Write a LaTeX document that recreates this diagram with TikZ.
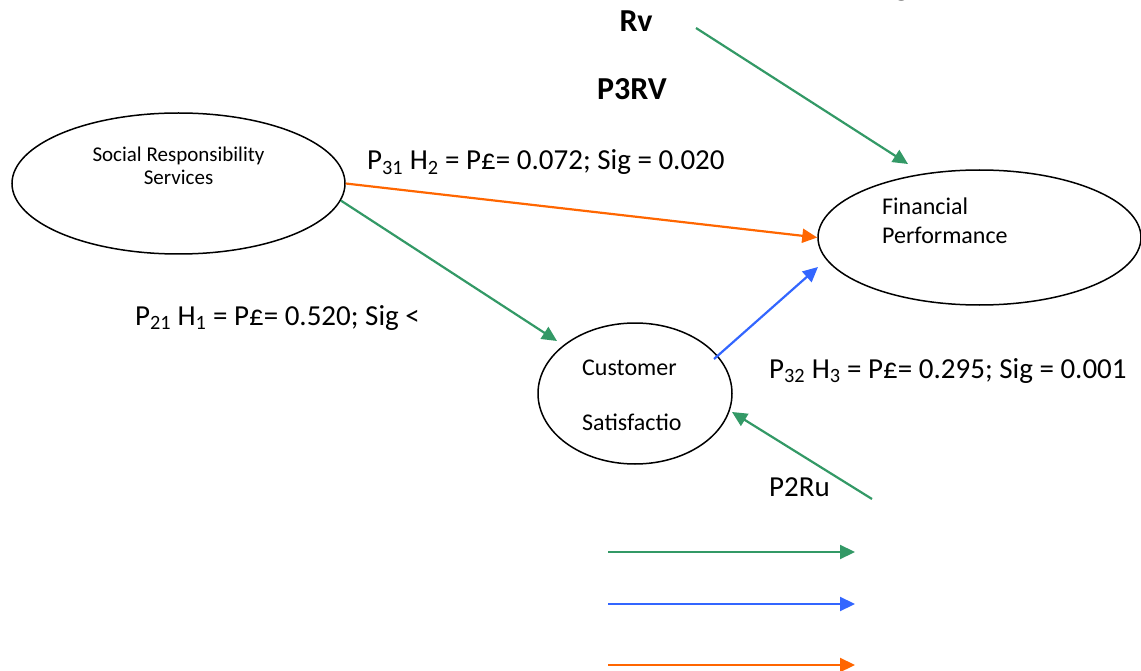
\documentclass[tikz,border=0pt]{standalone}
\usepackage{fontspec}
\setmainfont{Carlito}
\usetikzlibrary{shapes.geometric,arrows.meta}
\definecolor{pathgreen}{HTML}{339966}
\definecolor{pathblue}{HTML}{3366FF}
\definecolor{pathorange}{HTML}{FF6600}
\tikzset{
  construct/.style={draw=black, line width=1.5pt, ellipse, inner sep=0pt},
  conn/.style={line width=2.2pt, -{Triangle[length=15pt,width=14pt]}},
  lbl/.style={anchor=base west, inner sep=0pt, font=\fontsize{29}{34}\selectfont},
  inlbl/.style={anchor=base west, inner sep=0pt, font=\fontsize{24}{28}\selectfont},
  boldlbl/.style={anchor=base west, inner sep=0pt, font=\fontsize{32}{38}\selectfont\bfseries},
}
\begin{document}
\begin{tikzpicture}[x=1pt,y=-1pt]
\useasboundingbox (0,0) rectangle (1141,671);

% constructs
\node[construct, minimum width=333pt, minimum height=141pt] (srs) at (178.5,183.5) {};
\node[construct, minimum width=323pt, minimum height=135pt] (fp) at (979.5,237.5) {};
\node[construct, minimum width=194pt, minimum height=141pt] (cs) at (635,393.5) {};

% text inside the constructs
\node[inlbl, anchor=base, font=\fontsize{21}{25}\selectfont] (srs1) at (178.5,162) {Social Responsibility};
\node[inlbl, anchor=base, font=\fontsize{21}{25}\selectfont] (srs2) at (178.5,185) {Services};
\node[inlbl] (fp1) at (882,215) {Financial};
\node[inlbl] (fp2) at (882,244) {Performance};
\node[inlbl] (cs1) at (582,375) {Customer};
\node[inlbl] (cs2) at (582,430) {Satisfactio};

% path labels
\node[boldlbl, anchor=base] (rv) at (636,32) {Rv};
\node[boldlbl, anchor=base] (p3rv) at (632,100) {P3RV};
\node[boldlbl] (g) at (894,-4) {g};
\node[lbl] (h2) at (367,170) {P\textsubscript{31} H\textsubscript{2} = P£= 0.072; Sig = 0.020};
\node[lbl, anchor=base east] (h1) at (420,325) {P\textsubscript{21} H\textsubscript{1} = P£= 0.520; Sig <};
\node[lbl] (h3) at (769,378) {P\textsubscript{32} H\textsubscript{3} = P£= 0.295; Sig = 0.001};
\node[lbl] (p2ru) at (769,496) {P2Ru};

% connector ends
\coordinate (rvstart) at (696,28);
\coordinate (rvend) at (908,164);
\coordinate (h1end) at (557,341);
\coordinate (h3start) at (714,359);
\coordinate (h3end) at (818,267);
\coordinate (rustart) at (872,499);
\coordinate (ruend) at (732,412);

% structural paths
\draw[conn, pathgreen] (rvstart) -- (rvend);
\draw[conn, pathorange] (srs.east) -- (fp.west);
\draw[conn, pathgreen] (srs.-6) -- (h1end);
\draw[conn, pathblue] (h3start) -- (h3end);
\draw[conn, pathgreen] (rustart) -- (ruend);

% key
\coordinate (k1a) at (608,552); \coordinate (k1b) at (855,552);
\coordinate (k2a) at (608,604); \coordinate (k2b) at (855,604);
\coordinate (k3a) at (608,665); \coordinate (k3b) at (855,665);
\draw[conn, pathgreen] (k1a) -- (k1b);
\draw[conn, pathblue] (k2a) -- (k2b);
\draw[conn, pathorange] (k3a) -- (k3b);
\end{tikzpicture}
\end{document}
